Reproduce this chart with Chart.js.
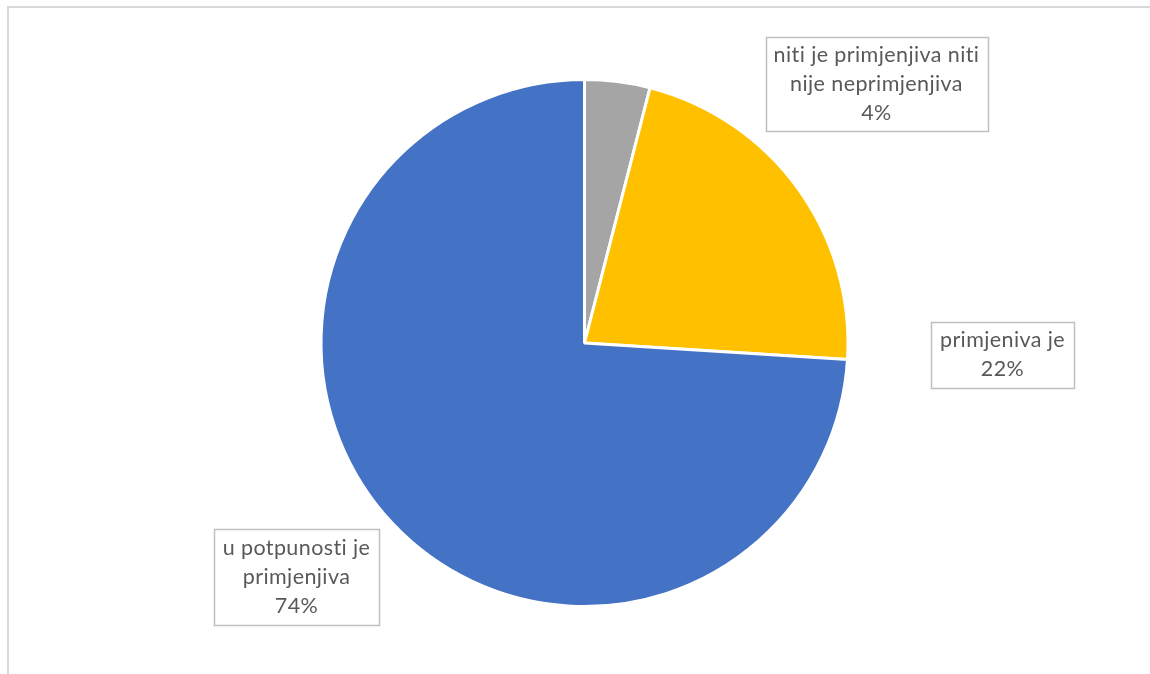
<!DOCTYPE html>
<html>
<head>
<meta charset="utf-8">
<script src="https://cdn.jsdelivr.net/npm/chart.js@4.4.1/dist/chart.umd.min.js"></script>
<style>
  html, body { margin: 0; padding: 0; background: #fff; }
  #wrap { position: relative; width: 1150px; height: 674px; overflow: hidden; }
  #frame { position: absolute; left: 7px; top: 6px; width: 1200px; height: 700px;
           border-left: 2px solid #d9d9d9; border-top: 2px solid #d9d9d9; }
  canvas { position: absolute; left: 0; top: 0; }
</style>
</head>
<body>
<div id="wrap">
  <div id="frame"></div>
  <canvas id="c" width="1150" height="674"></canvas>
</div>
<script>
// Data
const categories = ['niti je primjenjiva niti nije neprimjenjiva', 'primjeniva je', 'u potpunosti je primjenjiva'];
const values = [4, 22, 74];
const colors = ['#A5A5A5', '#FFC000', '#4472C4'];
const labelLines = [
  ['niti je primjenjiva niti', 'nije neprimjenjiva'],
  ['primjeniva je'],
  ['u potpunosti je', 'primjenjiva']
];

// Label box layout (offset of box centre from pie centre, box size)
const labelLayout = [
  { dx: 292, dy: -259, w: 222, h: 94 },
  { dx: 418, dy: 12,  w: 143, h: 66 },
  { dx: -288, dy: 234, w: 165, h: 96 }
];

const labelPlugin = {
  id: 'boxLabels',
  afterDatasetsDraw(chart) {
    const ctx = chart.ctx;
    const meta = chart.getDatasetMeta(0);
    const total = values.reduce((a, b) => a + b, 0);
    meta.data.forEach((arc, i) => {
      const L = labelLayout[i];
      const cx = arc.x + L.dx, cy = arc.y + L.dy;
      ctx.save();
      ctx.fillStyle = '#fff';
      ctx.fillRect(cx - L.w / 2, cy - L.h / 2, L.w, L.h);
      ctx.strokeStyle = '#bfbfbf';
      ctx.lineWidth = 1.5;
      ctx.strokeRect(Math.round(cx - L.w / 2) + 0.5, Math.round(cy - L.h / 2) + 0.5, L.w, L.h);
      const lines = labelLines[i].concat([Math.round(values[i] / total * 100) + '%']);
      ctx.fillStyle = '#595959';
      ctx.font = '21.5px Lato, "Noto Sans", sans-serif';
      if ('letterSpacing' in ctx) ctx.letterSpacing = '0.4px';
      ctx.textAlign = 'center';
      ctx.textBaseline = 'middle';
      const lh = 29;
      const y0 = cy - (lines.length - 1) * lh / 2;
      lines.forEach((t, k) => ctx.fillText(t, cx, y0 + k * lh));
      ctx.restore();
    });
  }
};

new Chart(document.getElementById('c'), {
  type: 'pie',
  data: {
    labels: categories,
    datasets: [{
      data: values,
      backgroundColor: colors,
      borderColor: '#ffffff',
      borderWidth: 3
    }]
  },
  options: {
    responsive: false,
    animation: false,
    layout: { padding: { left: 319, right: 300, top: 78, bottom: 66 } },
    plugins: { legend: { display: false }, tooltip: { enabled: false } }
  },
  plugins: [labelPlugin]
});
</script>
</body>
</html>
